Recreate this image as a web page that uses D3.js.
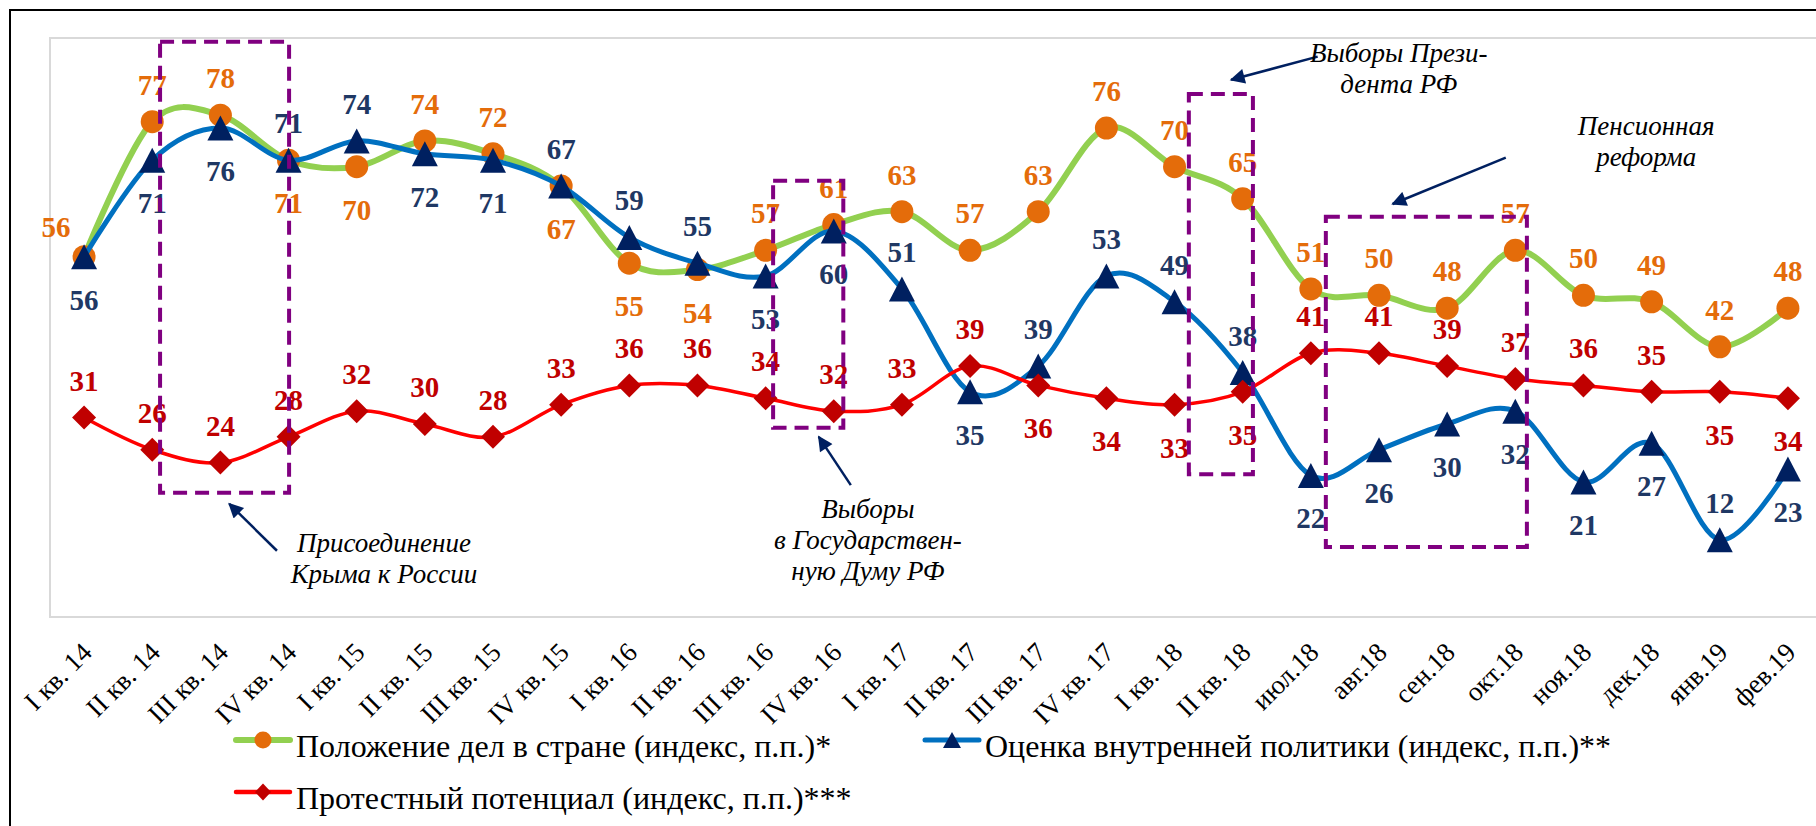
<!DOCTYPE html>
<html>
<head>
<meta charset="utf-8">
<script src="https://cdn.jsdelivr.net/npm/d3@7"></script>
<style>
  body { margin: 0; background: #fff; }
  svg { display: block; }
</style>
</head>
<body>
<svg id="chart"></svg>
<script>
var screenWidth = 1816;
var screenHeight = 826;
var serif = '"Liberation Serif", "Times New Roman", serif';

// categories (quarters, then months)
var cats = ["I кв. 14", "II кв. 14", "III кв. 14", "IV кв. 14",
	"I кв. 15", "II кв. 15", "III кв. 15", "IV кв. 15",
	"I кв. 16", "II кв. 16", "III кв. 16", "IV кв. 16",
	"I кв. 17", "II кв. 17", "III кв. 17", "IV кв. 17",
	"I кв. 18", "II кв. 18", "июл.18", "авг.18", "сен.18", "окт.18",
	"ноя.18", "дек.18", "янв.19", "фев.19"];

var polozhenie = [56, 77, 78, 71, 70, 74, 72, 67, 55, 54, 57, 61, 63, 57, 63, 76, 70, 65, 51, 50, 48, 57, 50, 49, 42, 48];
var otsenka = [56, 71, 76, 71, 74, 72, 71, 67, 59, 55, 53, 60, 51, 35, 39, 53, 49, 38, 22, 26, 30, 32, 21, 27, 12, 23];
var protest = [31, 26, 24, 28, 32, 30, 28, 33, 36, 36, 34, 32, 33, 39, 36, 34, 33, 35, 41, 41, 39, 37, 36, 35, 35, 34];

// where each value label sits: a = above, b = below, l = left
var posPolozhenie = "l a a b b a a b b b a a a a a a a a a a a a a a a a".split(" ");
var posOtsenka = "b b b a a b b a a a b b a b a a a a b b b b b b a b".split(" ");
var posProtest = "a a a a a a a a a a a a a a b b b b a a a a a a b b".split(" ");

var seriesNames = ["Положение дел в стране (индекс, п.п.)*",
	"Оценка внутренней политики (индекс, п.п.)**",
	"Протестный потенциал (индекс, п.п.)***"];

// event annotations, in category-index / value units
var boxes = [[1.115, 3.008, 89.4, 19.3], [10.11, 11.14, 67.8, 29.4], [16.21, 17.15, 81.3, 22.2], [18.22, 21.17, 62.2, 10.9]];
var notes = [
	{ i: 4.40, v: 10.1, lines: ["Присоединение", "Крыма к России"] },
	{ i: 11.50, v: 15.4, lines: ["Выборы", "в Государствен-", "ную Думу РФ"] },
	{ i: 19.29, v: 86.3, lines: ["Выборы Прези-", "дента РФ"] },
	{ i: 22.92, v: 74.9, lines: ["Пенсионная", "реформа"] }
];
var arrows = [[2.83, 10.3, 2.13, 17.6], [11.25, 20.5, 10.78, 28.0], [18.10, 87.1, 16.83, 83.5], [20.86, 71.4, 19.20, 64.2]];

var svg = d3.select('#chart')
	.attr('width', screenWidth)
	.attr('height', screenHeight)
	.style('font-family', serif);

var plotLeft = 50, plotTop = 38, plotBottom = 617;

var x = d3.scalePoint().domain(cats).range([plotLeft, 1822]).padding(0.5);
var y = d3.scaleLinear().domain([0, 90]).range([plotBottom, plotTop]);
var xi = d3.scaleLinear().domain([0, cats.length - 1]).range([x(cats[0]), x(cats[cats.length - 1])]);

// outer frame and plot area
svg.append('rect').attr('x', 10).attr('y', 10).attr('width', 1900).attr('height', 900)
	.attr('fill', 'none').attr('stroke', '#000').attr('stroke-width', 2);
svg.append('rect').attr('x', plotLeft).attr('y', plotTop).attr('width', 1900).attr('height', plotBottom - plotTop)
	.attr('fill', 'none').attr('stroke', '#d9d9d9').attr('stroke-width', 2);

// category axis, labels rotated
var xAxis = d3.axisBottom(x).tickSize(0).tickPadding(0);
var gx = svg.append('g').attr('transform', 'translate(0,' + 654 + ')').call(xAxis);
gx.select('.domain').remove();
gx.selectAll('text')
	.attr('y', 0).attr('dy', 0)
	.attr('transform', 'translate(9,0) rotate(-45)')
	.style('text-anchor', 'end')
	.style('font-family', serif)
	.style('font-size', '27px')
	.attr('fill', '#000');

var triPath = 'M0,-12.5L13,12.5L-13,12.5Z';
var diaPath = 'M0,-12L12,0L0,12L-12,0Z';

var series = [
	{ values: polozhenie, pos: posPolozhenie, line: '#92d050', lw: 6, marker: '#e46c0a', label: '#e46c0a', shape: 'circle' },
	{ values: otsenka, pos: posOtsenka, line: '#0070c0', lw: 5, marker: '#002060', label: '#1f3864', shape: triPath },
	{ values: protest, pos: posProtest, line: '#ff0000', lw: 3.5, marker: '#c00000', label: '#c00000', shape: diaPath }
];

var line = d3.line()
	.x(function(d, i) { return x(cats[i]); })
	.y(function(d) { return y(d); })
	.curve(d3.curveCatmullRom.alpha(0));

series.forEach(function(s) {
	var g = svg.append('g');
	g.append('path').attr('d', line(s.values))
		.attr('fill', 'none').attr('stroke', s.line).attr('stroke-width', s.lw)
		.attr('stroke-linecap', 'round');
	if (s.shape === 'circle') {
		g.selectAll('circle').data(s.values).enter().append('circle')
			.attr('cx', function(d, i) { return x(cats[i]); })
			.attr('cy', function(d) { return y(d); })
			.attr('r', 11.5)
			.attr('fill', s.marker);
	} else {
		g.selectAll('path.m').data(s.values).enter().append('path')
			.attr('class', 'm')
			.attr('d', s.shape)
			.attr('transform', function(d, i) { return 'translate(' + x(cats[i]) + ',' + y(d) + ')'; })
			.attr('fill', s.marker);
	}
});

// value labels
series.forEach(function(s) {
	svg.append('g').selectAll('text').data(s.values).enter().append('text')
		.attr('x', function(d, i) { return x(cats[i]) + (s.pos[i] === 'l' ? -28 : 0); })
		.attr('y', function(d, i) {
			var p = s.pos[i];
			return y(d) + (p === 'a' ? -27 : p === 'b' ? 53 : -20);
		})
		.attr('text-anchor', 'middle')
		.style('font-family', serif)
		.style('font-size', '29px')
		.style('font-weight', 'bold')
		.attr('fill', s.label)
		.text(function(d) { return d; });
});

// dashed event boxes
svg.append('g').selectAll('rect').data(boxes).enter().append('rect')
	.attr('x', function(d) { return xi(d[0]); })
	.attr('y', function(d) { return y(d[2]); })
	.attr('width', function(d) { return xi(d[1]) - xi(d[0]); })
	.attr('height', function(d) { return y(d[3]) - y(d[2]); })
	.attr('fill', 'none')
	.attr('stroke', '#800080')
	.attr('stroke-width', 4)
	.attr('stroke-dasharray', '14,8');

// arrows
var defs = svg.append('defs');
defs.append('marker').attr('id', 'head')
	.attr('viewBox', '0 0 10 10').attr('refX', 9).attr('refY', 5)
	.attr('markerWidth', 7).attr('markerHeight', 6).attr('markerUnits', 'strokeWidth')
	.attr('orient', 'auto')
	.append('path').attr('d', 'M0,0L10,5L0,10Z').attr('fill', '#002060');

svg.append('g').selectAll('line').data(arrows).enter().append('line')
	.attr('x1', function(d) { return xi(d[0]); })
	.attr('y1', function(d) { return y(d[1]); })
	.attr('x2', function(d) { return xi(d[2]); })
	.attr('y2', function(d) { return y(d[3]); })
	.attr('stroke', '#002060')
	.attr('stroke-width', 2.5)
	.attr('marker-end', 'url(#head)');

// annotation texts
var noteG = svg.append('g').selectAll('text').data(notes).enter().append('text')
	.attr('x', function(d) { return xi(d.i); })
	.attr('y', function(d) { return y(d.v); })
	.attr('text-anchor', 'middle')
	.style('font-family', serif)
	.style('font-size', '27px')
	.style('font-style', 'italic')
	.attr('fill', '#000');
noteG.selectAll('tspan').data(function(d) { return d.lines; }).enter().append('tspan')
	.attr('x', function() { return d3.select(this.parentNode).attr('x'); })
	.attr('dy', function(d, i) { return i === 0 ? 0 : 31; })
	.text(function(d) { return d; });

// legend
var legendItems = [
	{ name: seriesNames[0], lx: 236, ly: 740, s: series[0], mk: 'circle' },
	{ name: seriesNames[1], lx: 925, ly: 740, s: series[1], mk: 'M0,-8L9,8L-9,8Z' },
	{ name: seriesNames[2], lx: 236, ly: 792, s: series[2], mk: 'M0,-8.5L8,0L0,8.5L-8,0Z' }
];
var lg = svg.append('g').selectAll('g').data(legendItems).enter().append('g')
	.attr('transform', function(d) { return 'translate(' + d.lx + ',' + d.ly + ')'; });
lg.append('line').attr('x1', 0).attr('x2', 54).attr('y1', 0).attr('y2', 0)
	.attr('stroke', function(d) { return d.s.line; })
	.attr('stroke-width', function(d) { return Math.max(d.s.lw, 4.5); })
	.attr('stroke-linecap', 'round');
lg.each(function(d) {
	var g = d3.select(this);
	if (d.mk === 'circle') {
		g.append('circle').attr('cx', 27).attr('cy', 0).attr('r', 8.5).attr('fill', d.s.marker);
	} else {
		g.append('path').attr('d', d.mk).attr('transform', 'translate(27,0)').attr('fill', d.s.marker);
	}
});
lg.append('text').attr('x', 60).attr('y', 17)
	.style('font-family', serif)
	.style('font-size', '32px')
	.attr('fill', '#000')
	.text(function(d) { return d.name; });
</script>
</body>
</html>
